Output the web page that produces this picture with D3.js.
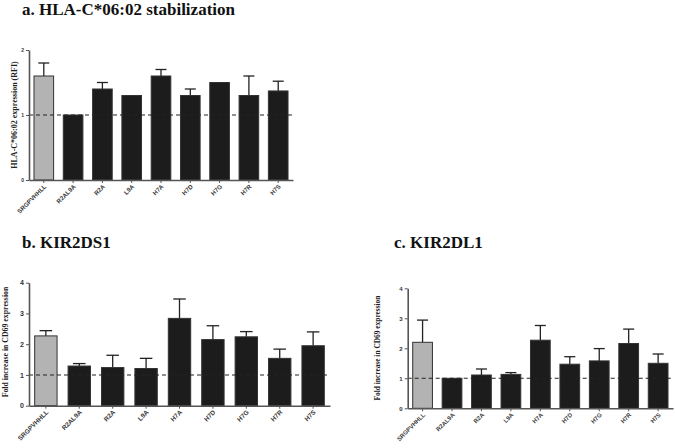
<!DOCTYPE html>
<html><head><meta charset="utf-8">
<script src="https://cdn.jsdelivr.net/npm/d3@7"></script>
<style>html,body{margin:0;padding:0;background:#fff;}svg{display:block;}</style>
</head><body>
<svg id="chart" width="675" height="448"></svg>
<script>
const categories = ["SRGPVHHLL","R2AL9A","R2A","L9A","H7A","H7D","H7G","H7R","H7S"];

const hlaValues = [1.6, 1.0, 1.4, 1.3, 1.6, 1.3, 1.5, 1.3, 1.37];
const hlaErrors = [1.8, 1.0, 1.5, 1.3, 1.7, 1.4, 1.5, 1.6, 1.52];
const hlaTicks = [0, 1, 2];

const ds1Values = [2.27, 1.29, 1.24, 1.21, 2.84, 2.15, 2.24, 1.54, 1.95];
const ds1Errors = [2.44, 1.37, 1.64, 1.54, 3.47, 2.6, 2.41, 1.84, 2.4];
const dl1Values = [2.2, 1.0, 1.11, 1.13, 2.27, 1.47, 1.58, 2.16, 1.5];
const dl1Errors = [2.94, 1.0, 1.31, 1.19, 2.76, 1.72, 1.99, 2.64, 1.81];
const kirTicks = [0, 1, 2, 3, 4];

const svg = d3.select("#chart");

function panel(o) {
  const g = svg.append("g");
  const x = d3.scaleBand().domain(categories).range([o.x0, o.x1]).paddingInner(0.33).paddingOuter(0.17);
  const y = d3.scaleLinear().domain([0, d3.max(o.ticks)]).range([o.yb, o.yt]);
  const bw = x.bandwidth();

  g.append("text").attr("x", o.tx).attr("y", o.ty)
    .attr("font-family", "Liberation Serif, Times New Roman, serif")
    .attr("font-weight", "bold").attr("font-size", o.tfs).attr("fill", "#111")
    .text(o.title);

  g.append("text")
    .attr("transform", `translate(${o.lx},${o.ly}) rotate(-90)`)
    .attr("text-anchor", "middle")
    .attr("font-family", "Liberation Serif, Times New Roman, serif")
    .attr("font-weight", "bold").attr("font-size", o.lfs).attr("fill", "#222")
    .text(o.ylabel);

  const eb = g.append("g").attr("stroke", "#222").attr("stroke-width", 1.3);
  categories.forEach((c, i) => {
    if (o.errs[i] > o.vals[i] + 0.001) {
      const cx = x(c) + bw / 2;
      eb.append("line").attr("x1", cx).attr("x2", cx).attr("y1", y(o.vals[i])).attr("y2", y(o.errs[i]));
      eb.append("line").attr("x1", cx - bw * 0.28).attr("x2", cx + bw * 0.28).attr("y1", y(o.errs[i])).attr("y2", y(o.errs[i]));
    }
  });

  g.append("g").selectAll("rect").data(categories).join("rect")
    .attr("x", d => x(d)).attr("width", bw)
    .attr("y", (d, i) => y(o.vals[i])).attr("height", (d, i) => y(0) - y(o.vals[i]))
    .attr("fill", (d, i) => i === 0 ? "#b3b3b3" : "#1c1c1c")
    .attr("stroke", "#333").attr("stroke-width", 1);

  g.append("line").attr("x1", o.x0).attr("x2", o.x1).attr("y1", y(1)).attr("y2", y(1))
    .attr("stroke", "#222").attr("stroke-width", 1.1).attr("stroke-dasharray", "4,3");

  const ya = g.append("g").attr("transform", `translate(${o.x0},0)`)
    .call(d3.axisLeft(y).tickValues(o.ticks).tickFormat(d3.format("d")).tickSize(3).tickSizeOuter(0));
  ya.select(".domain").attr("stroke", "#555").attr("stroke-width", 1.6);
  ya.selectAll(".tick line").attr("stroke", "#555");
  ya.selectAll("text").attr("font-family", "Liberation Sans, Arial, sans-serif")
    .attr("font-weight", "bold").attr("font-size", o.nfs).attr("fill", "#333").attr("dx", 1);

  const xa = g.append("g").attr("transform", `translate(0,${o.yb})`)
    .call(d3.axisBottom(x).tickSize(3).tickSizeOuter(0).tickFormat(""));
  xa.select(".domain").attr("stroke", "#555").attr("stroke-width", 1.6);
  xa.selectAll(".tick line").attr("stroke", "#555");
  xa.selectAll(".tick text").remove();
  xa.selectAll(".tick").append("text")
    .attr("x", 0).attr("y", 0)
    .attr("transform", "translate(3,7) rotate(-45)")
    .attr("text-anchor", "end")
    .attr("font-family", "Liberation Sans, Arial, sans-serif")
    .attr("font-weight", "bold").attr("font-size", o.xfs).attr("fill", "#3a3a3a")
    .text(d => d);
}

panel({title: "a. HLA-C*06:02 stabilization", tx: 22, ty: 15, tfs: 17,
  ylabel: "HLA-C*06:02 expression (RFI)", lx: 17, ly: 115, lfs: 8,
  x0: 29, x1: 293, yb: 180, yt: 50, ticks: hlaTicks, vals: hlaValues, errs: hlaErrors, nfs: 5, xfs: 6.2});

panel({title: "b. KIR2DS1", tx: 22, ty: 248, tfs: 17,
  ylabel: "Fold increase in CD69 expression", lx: 8, ly: 342, lfs: 7.8,
  x0: 29, x1: 330, yb: 405.7, yt: 282.7, ticks: kirTicks, vals: ds1Values, errs: ds1Errors, nfs: 7, xfs: 6.5});

panel({title: "c. KIR2DL1", tx: 394, ty: 248, tfs: 17,
  ylabel: "Fold increase in CD69 expression", lx: 380, ly: 348, lfs: 7.4,
  x0: 407.7, x1: 673, yb: 408.3, yt: 288.3, ticks: kirTicks, vals: dl1Values, errs: dl1Errors, nfs: 6, xfs: 6});
</script>
</body></html>
